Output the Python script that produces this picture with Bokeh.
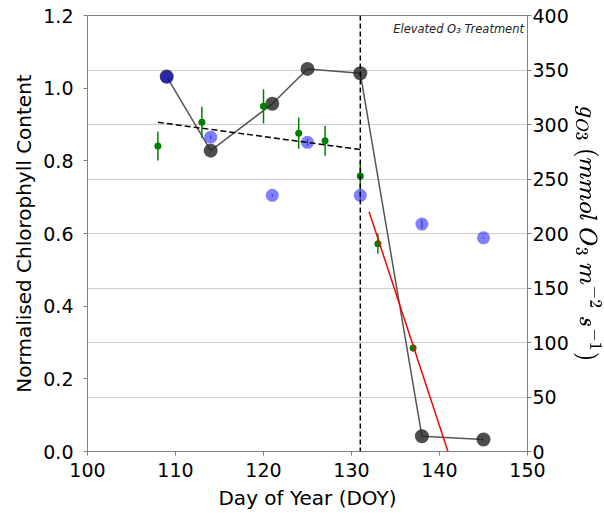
from bokeh.plotting import figure
from bokeh.models import Range1d, LinearAxis, FixedTicker, Grid, Label, Span, PrintfTickFormatter
from bokeh.embed import file_html
from bokeh.resources import INLINE

# gO3 (right axis) - black circles
g_doy = [109, 114, 121, 125, 131, 138, 145]
g_val = [344, 276, 319, 351, 347, 14, 11]

# control chlorophyll (blue)
b_doy = [109, 114, 121, 125, 131, 138, 145]
b_val = [1.030, 0.865, 0.705, 0.851, 0.705, 0.626, 0.588]
b_err = [0.003, 0.005, 0.003, 0.010, 0.010, 0.012, 0.002]

# treatment chlorophyll (green)
c_doy = [108, 113, 120, 124, 127, 131, 133, 137]
c_val = [0.841, 0.906, 0.950, 0.876, 0.855, 0.758, 0.572, 0.285]
c_err = [0.040, 0.043, 0.047, 0.043, 0.041, 0.040, 0.027, 0.010]

# regression lines
pre_x = [108, 131]
pre_y = [0.906, 0.831]
post_x = [132, 141]
post_y = [0.660, -0.003]

treat_doy = 131

left_ticks = [0.0, 0.2, 0.4, 0.6, 0.8, 1.0, 1.2]
right_ticks = [0, 50, 100, 150, 200, 250, 300, 350, 400]
x_ticks = [100, 110, 120, 130, 140, 150]

FONT = "DejaVu Sans"
TICK = "19px"
LAB = "20px"
SPINE = "#808080"

p = figure(frame_width=440, frame_height=436, output_backend="svg", toolbar_location=None,
           x_range=Range1d(100, 150), y_range=Range1d(0, 1.2),
           min_border_left=87, min_border_top=15, min_border_right=62, min_border_bottom=54)
p.extra_y_ranges = {"g": Range1d(0, 400)}

p.outline_line_color = SPINE
p.outline_line_width = 1
p.xgrid.visible = False
p.ygrid.visible = False

def style_axis(ax):
    ax.axis_line_color = SPINE
    ax.major_tick_line_color = SPINE
    ax.minor_tick_line_color = None
    ax.major_tick_out = 4
    ax.major_tick_in = 0
    ax.major_label_text_font = FONT
    ax.major_label_text_font_size = TICK
    ax.major_label_text_color = "#000000"
    ax.axis_label_text_font = FONT
    ax.axis_label_text_font_size = LAB
    ax.axis_label_text_font_style = "normal"
    ax.axis_label_text_color = "#000000"

p.xaxis.ticker = FixedTicker(ticks=x_ticks)
p.xaxis.axis_label = "Day of Year (DOY)"
style_axis(p.xaxis[0])
p.xaxis.axis_label_standoff = 6
p.xaxis.major_label_standoff = 7

p.yaxis.ticker = FixedTicker(ticks=left_ticks)
p.yaxis.formatter = PrintfTickFormatter(format="%.1f")
p.yaxis.axis_label = "Normalised Chlorophyll Content"
style_axis(p.yaxis[0])
p.yaxis.axis_label_standoff = 4
p.yaxis.major_label_standoff = 10

ry = LinearAxis(y_range_name="g", ticker=FixedTicker(ticks=right_ticks),
                axis_label=r"$$g_{O3}\ (mmol\ O_3\ m^{-2}\ s^{-1})$$")
style_axis(ry)
ry.major_label_standoff = 1
ry.axis_label_standoff = 2
p.add_layout(ry, "right")

grid = Grid(dimension=1, ticker=ry.ticker, y_range_name="g",
            grid_line_color="#cccccc", grid_line_width=1.2)
p.add_layout(grid)

# gO3 series
p.line(g_doy, g_val, y_range_name="g", line_color="#555555", line_width=1.5)
p.scatter(g_doy, g_val, y_range_name="g", size=14, fill_color="#222222", fill_alpha=0.8,
          line_color=None)

# control (blue)
b_lo = [v - e for v, e in zip(b_val, b_err)]
b_hi = [v + e for v, e in zip(b_val, b_err)]
p.scatter(b_doy, b_val, size=13, fill_color="blue", fill_alpha=0.5, line_color=None)
p.segment(b_doy, b_lo, b_doy, b_hi, line_color="#3333cc", line_width=1.2)

# treatment (green)
c_lo = [v - e for v, e in zip(c_val, c_err)]
c_hi = [v + e for v, e in zip(c_val, c_err)]
p.segment(c_doy, c_lo, c_doy, c_hi, line_color="green", line_width=1.5)
p.scatter(c_doy, c_val, size=7, fill_color="green", line_color=None)

# regressions
p.line(pre_x, pre_y, line_color="black", line_width=1.5, line_dash="6 3")
p.line(post_x, post_y, line_color="red", line_width=1.5)

# treatment start
p.add_layout(Span(location=treat_doy, dimension="height", line_color="black",
                  line_width=1.5, line_dash="5 3"))

p.add_layout(Label(x=149.6, y=1.163, text="Elevated O₃ Treatment", text_align="right",
                   text_baseline="middle", text_font=FONT, text_font_size="11.5px",
                   text_font_style="italic", text_color="#222222"))

open("out.html", "w").write(file_html(p, INLINE))
